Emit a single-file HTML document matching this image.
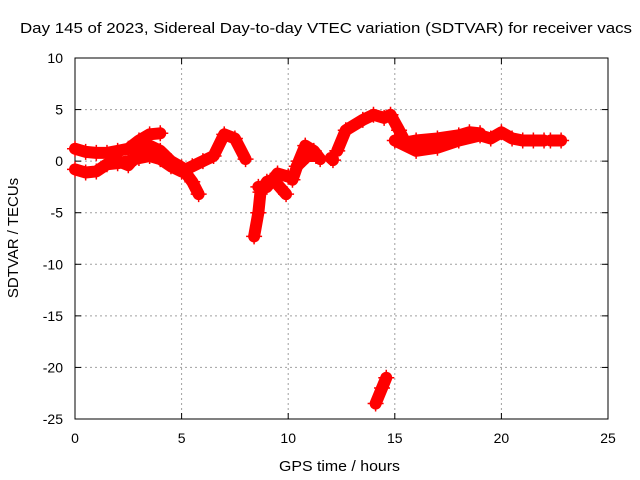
<!DOCTYPE html>
<html><head><meta charset="utf-8"><style>
body{margin:0;background:#fff;}
svg{display:block;font-family:"Liberation Sans",sans-serif;}
</style></head><body>
<svg id="c" width="640" height="480">
<text x="20" y="33" font-size="15" textLength="612" lengthAdjust="spacingAndGlyphs">Day 145 of 2023, Sidereal Day-to-day VTEC variation (SDTVAR) for receiver vacs</text>
<text x="279" y="471" font-size="15" textLength="121" lengthAdjust="spacingAndGlyphs">GPS time / hours</text>
<text transform="translate(18,238) rotate(-90)" font-size="15" text-anchor="middle">SDTVAR / TECUs</text>
<g id="grid"></g>
<g id="axes"></g>
<g id="marks"></g>
</svg>
<script>
const xTicks=[0,5,10,15,20,25];
const yTicks=[10,5,0,-5,-10,-15,-20,-25];
const trackA=[[0,1.2],[0.5,0.9],[1,0.8],[1.5,0.8],[2,1],[2.5,1.2],[3,2],[3.5,2.6],[4,2.7]];
const trackB=[[0,-0.8],[0.5,-1.1],[1,-1],[1.5,-0.3],[2,-0.2],[2.5,0],[3,0.3],[3.5,0.5],[4,0.2],[4.5,-0.5],[5,-1],[5.5,-0.5],[6,0],[6.5,0.5],[7,2.6],[7.5,2.2],[8,0.2]];
const trackC=[[1.8,0.2],[2.5,-0.4],[3,0.8],[3.5,1.5],[4,1],[4.5,0],[5,-0.6],[5.5,-2],[5.8,-3.2]];
const trackD=[[8.4,-7.3],[8.6,-5],[8.7,-3],[9,-2],[9.3,-1.8],[9.6,-2.5],[9.9,-3.2]];
const trackD2=[[8.6,-2.5],[9,-2.5],[9.5,-1.2],[10,-1.5]];
const trackE=[[10.2,-1.8],[10.5,0],[10.8,1.5],[11.2,1],[11.5,0.2]];
const trackE2=[[10.4,-0.5],[10.9,0.5],[11.3,0.5]];
const trackE3=[[12,0.3],[12.1,0.1]];
const trackF=[[12.3,1],[12.7,3],[13.5,4],[14,4.5],[14.5,4.2],[14.8,4.5],[15.2,3],[15.5,1.8],[16,2],[17,2.2],[18,2.5],[18.5,2.8],[19,2.7]];
const trackF2=[[15,2],[16,1],[17,1.3],[18,2],[19,2.5],[19.5,2.2],[20,2.8],[20.5,2.2],[21,2],[21.5,2],[22,2]];
const trackG=[[22.3,2],[22.8,2]];
const trackH=[[14.1,-23.5],[14.4,-22],[14.6,-21]];
const tracks=[trackA,trackB,trackC,trackD,trackD2,trackE,trackE2,trackE3,trackF,trackF2,trackG,trackH];
const L=75,R=608,T=58,B=419;
const X=v=>L+(v-0)/25*(R-L);
const Y=v=>T+(10-v)/35*(B-T);
const NS="http://www.w3.org/2000/svg";
function mk(tag,parent){const e=document.createElementNS(NS,tag);document.getElementById(parent).appendChild(e);return e;}
xTicks.forEach(t=>{
  if(t>0&&t<25){const g=mk('line','grid');g.setAttribute('x1',X(t));g.setAttribute('x2',X(t));g.setAttribute('y1',T);g.setAttribute('y2',B);g.setAttribute('stroke','#a0a0a0');g.setAttribute('stroke-dasharray','2,3');
  
  }
  const tk=mk('text','axes');tk.setAttribute('x',X(t));tk.setAttribute('y',B+24);tk.setAttribute('font-size','14');tk.setAttribute('text-anchor','middle');tk.textContent=t;
  
  
  [[B,B-6],[T,T+6]].forEach(p=>{const l=mk('line','axes');l.setAttribute('x1',X(t));l.setAttribute('x2',X(t));l.setAttribute('y1',p[0]);l.setAttribute('y2',p[1]);l.setAttribute('stroke','#000');
  
  });
});
yTicks.forEach(t=>{
  if(t<10&&t>-25){const g=mk('line','grid');g.setAttribute('x1',L);g.setAttribute('x2',R);g.setAttribute('y1',Y(t));g.setAttribute('y2',Y(t));g.setAttribute('stroke','#a0a0a0');g.setAttribute('stroke-dasharray','2,3');
  
  }
  const tk=mk('text','axes');tk.setAttribute('x',L-12);tk.setAttribute('y',Y(t)+5);tk.setAttribute('font-size','14');tk.setAttribute('text-anchor','end');tk.textContent=t;
  
  
  [[L,L+6],[R,R-6]].forEach(p=>{const l=mk('line','axes');l.setAttribute('y1',Y(t));l.setAttribute('y2',Y(t));l.setAttribute('x1',p[0]);l.setAttribute('x2',p[1]);l.setAttribute('stroke','#000');
  
  });
});
const fr=mk('rect','axes');fr.setAttribute('x',L);fr.setAttribute('y',T);fr.setAttribute('width',R-L);fr.setAttribute('height',B-T);fr.setAttribute('fill','none');fr.setAttribute('stroke','#000');


tracks.forEach(tr=>{
  const pl=mk('polyline','marks');
  pl.setAttribute('points',tr.map(p=>X(p[0])+','+Y(p[1])).join(' '));
  pl.setAttribute('fill','none');pl.setAttribute('stroke','#f00');pl.setAttribute('stroke-width','12');pl.setAttribute('stroke-linejoin','round');pl.setAttribute('stroke-linecap','round');
  
  
  tr.forEach(p=>{
    const m=mk('path','marks');const x=X(p[0]),y=Y(p[1]);
    m.setAttribute('d',`M${x-8},${y}H${x+8}M${x},${y-8}V${y+8}`);m.setAttribute('stroke','#f00');m.setAttribute('stroke-width','1.5');
    
    
  });
});
</script>
</body></html>
